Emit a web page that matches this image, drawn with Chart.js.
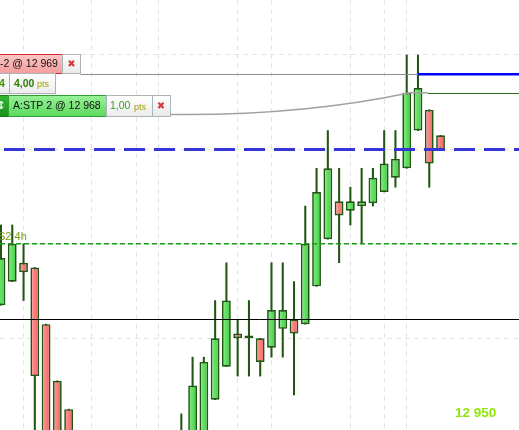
<!DOCTYPE html>
<html><head><meta charset="utf-8">
<script src="https://cdn.jsdelivr.net/npm/chart.js@4"></script>
<style>html,body{margin:0;padding:0;background:#fff;overflow:hidden}#wrap{width:519px;height:430px}</style>
</head><body><div id="wrap"><canvas id="c" width="519" height="430"></canvas></div>
<script>
// ---- data (candle slot index, OHLC in index points) ----
const slots  = [0,1,2,3,4,5,6,7,8,9,10,11,12,13,14,15,16,17,18,19,20,21,22,23,24,25,26,27,28,29,30,31,32,33,34,35,36,37,38,39];
const opens  = [12956.75,12958,12959,12958.75,12955.75,12952.75,12951.25,12946,12944,12942.75,12943.5,12944.5,12945.25,12944.5,12945.75,12947,12948,12949.5,12949.75,12951.75,12953.5,12955.25,12955.15,12955,12954.5,12955.5,12956,12955.75,12957.75,12960.25,12962.25,12961.75,12962,12962.15,12962.75,12963.5,12964,12966,12967.1,12965.75];
const highs  = [12961,12961,12960,12958.75,12955.75,12952.75,12951.25,12947,12945,12944,12945,12946,12946.5,12946,12947.5,12948.5,12951,12954,12954,12957,12959,12956,12957,12955,12959,12959,12958,12962,12964,12966,12964,12963,12964,12964,12966,12966,12970,12970,12967.1,12965.75];
const lows   = [12956.75,12958,12957,12948,12948.5,12946.5,12945,12943.5,12942,12941.5,12942.5,12943.5,12944,12943.75,12945,12946.5,12947.5,12949,12949.5,12951.75,12953.5,12953,12953,12953,12954,12954,12952,12955.75,12957.75,12960.25,12959,12961,12960,12962,12962.75,12963,12964,12966,12963,12965];
const closes = [12959.25,12960,12958.5,12953,12949,12947,12945.5,12944,12942.75,12943.5,12944.5,12945.25,12944.5,12945.75,12947,12948,12949.5,12952.5,12953.75,12955,12957,12955,12955,12953.75,12956.5,12956.5,12955.25,12960,12962.75,12964,12961.5,12962.25,12962.25,12963.5,12964.25,12964.5,12968,12968.25,12964.25,12965];
const timeGridSlots = [2,8,12,14,21,24,31,34,36];
const priceGridTicks = [12955,12960,12965,12970];
const priceAxisLabels = ["12 950"];
const priceAxisValues = [12950];
const limitOrderPrice = 12969;   // -2 @ 12 969
const stopOrderPrice  = 12968;   // A:STP 2 @ 12 968
const blueLevel  = 12965;
const pivotS2    = 12960;        // S2 4h
const blackLevel = 12956;
const positionStartSlot = 37;
const stopLineStartSlot = 38;

const BORDER = '#225614';
function bodyFill(c){
  const i = c.dataIndex; if (i === undefined) return '#5ad85a';
  const up = closes[i] >= opens[i];
  const xs = c.chart.scales && c.chart.scales.x;
  const px = xs ? xs.getPixelForValue(slots[i]) : NaN;
  if (!isFinite(px)) return up ? '#5ad85a' : '#f87a7a';
  const g = c.chart.ctx.createLinearGradient(px-4, 0, px+4, 0);
  if (up){ g.addColorStop(0,'#88ec88'); g.addColorStop(1,'#3ecf3e'); }
  else { g.addColorStop(0,'#ff9c9c'); g.addColorStop(1,'#f26262'); }
  return g;
}

function hline(ctx, x1, x2, y, color, w, dash, off){
  ctx.save(); ctx.beginPath(); ctx.strokeStyle=color; ctx.lineWidth=w;
  ctx.setLineDash(dash||[]); ctx.lineDashOffset = off||0;
  const yy = (w%2===1) ? Math.round(y)+0.5 : y;
  ctx.moveTo(x1, yy); ctx.lineTo(x2, yy); ctx.stroke(); ctx.restore();
}
function box(ctx, x1, y1, x2, y2, top, bot, stroke){
  const g = ctx.createLinearGradient(0, y1, 0, y2);
  g.addColorStop(0, top); g.addColorStop(1, bot);
  ctx.fillStyle = g; ctx.fillRect(x1, y1, x2-x1, y2-y1);
  ctx.strokeStyle = stroke; ctx.lineWidth = 1; ctx.strokeRect(x1, y1, x2-x1, y2-y1);
}
function txt(ctx, s, x, y, font, color, align){
  ctx.font = font; ctx.fillStyle = color; ctx.textAlign = align||'left'; ctx.textBaseline='middle';
  ctx.fillText(s, x, y);
}

const overlay = {
  id:'overlay',
  afterDatasetsDraw(chart){
    const {ctx, scales:{x, y}} = chart; const W = chart.width;
    const Y = p => y.getPixelForValue(p);
    hline(ctx, 0, W, Y(blackLevel), '#000000', 1);
    hline(ctx, 0, W, Y(pivotS2), '#1a9a1a', 1.5, [5,3]);
    hline(ctx, 0, W, Y(blueLevel), '#3636d8', 3, [21,9], 26);
    hline(ctx, 80.5, W, Y(limitOrderPrice), '#8a8a8a', 1);
    hline(ctx, x.getPixelForValue(positionStartSlot), W, Y(limitOrderPrice)+0.3, '#0000ff', 2.4);
    const ys = Y(stopOrderPrice);
    const xg = x.getPixelForValue(stopLineStartSlot) - 1.5;
    ctx.save(); ctx.beginPath(); ctx.strokeStyle='#a2a2a2'; ctx.lineWidth=1.5;
    ctx.moveTo(170.5, 114.5); ctx.quadraticCurveTo(300, 116, 410, ys); ctx.lineTo(xg, ys); ctx.stroke(); ctx.restore();
    hline(ctx, xg, W, ys, '#2b6a1e', 1);
  },
  afterDraw(chart){
    const {ctx, scales:{y}} = chart;
    const F = '"Liberation Sans", Arial, sans-serif';
    ctx.save();
    txt(ctx, 'S2 4h', -2, y.getPixelForValue(pivotS2) - 7, '11px '+F, '#7a9a12');
    txt(ctx, priceAxisLabels[0], 455, y.getPixelForValue(priceAxisValues[0]) - 19.5, 'bold 13.5px '+F, '#8ee80a');
    box(ctx, -5, 54.5, 62.5, 73.5, '#fcc6c6', '#f59c9c', '#cc2b2b');
    txt(ctx, '-2 @ 12 969', 0, 64.5, '10.5px '+F, '#111');
    box(ctx, 62.5, 54.5, 80.5, 73.5, '#ffffff', '#e9e9e9', '#a9b5b9');
    txt(ctx, '\u2716', 71.5, 64.5, 'bold 10px "DejaVu Sans"', '#d63a3a', 'center');
    box(ctx, -5, 73.5, 9.5, 93.5, '#ffffff', '#ececec', '#a9b5b9');
    txt(ctx, '4', -1, 84, 'bold 10.5px '+F, '#3a9000');
    box(ctx, 9.5, 73.5, 55.5, 93.5, '#ffffff', '#ececec', '#a9b5b9');
    txt(ctx, '4,00', 14, 84, 'bold 10.5px '+F, '#2c7e00');
    txt(ctx, 'pts', 37, 85, '9px '+F, '#a0a400');
    box(ctx, -5, 95.5, 8.5, 116.5, '#33b433', '#1e921e', '#1d7a1d');
    txt(ctx, '\u2195', 1, 106, 'bold 11px "DejaVu Sans"', '#e8ffe8', 'center');
    box(ctx, 8.5, 95.5, 106.5, 116.5, '#98f298', '#5cd85c', '#2ea02e');
    txt(ctx, 'A:STP 2 @ 12 968', 13, 106.5, '10.5px '+F, '#111');
    box(ctx, 106.5, 95.5, 152.5, 116.5, '#ffffff', '#ececec', '#a9b5b9');
    txt(ctx, '1,00', 110, 106.5, '10.5px '+F, '#34a018');
    txt(ctx, 'pts', 134, 107.5, '9px '+F, '#a0a400');
    box(ctx, 152.5, 95.5, 170.5, 116.5, '#ffffff', '#e9e9e9', '#a9b5b9');
    txt(ctx, '\u2716', 161, 106.5, 'bold 10px "DejaVu Sans"', '#d63a3a', 'center');
    ctx.restore();
  }
};

const slotPx = 11.27;
new Chart(document.getElementById('c'), {
  type: 'bar',
  data: {
    datasets: [
      { label:'body', grouped:false, order:0,
        data: slots.map(i => ({x:i, y:[opens[i], closes[i]]})),
        backgroundColor: bodyFill, borderColor: BORDER, borderWidth: 1.7, borderSkipped: false,
        inflateAmount: 0, barThickness: 8.8 },
      { label:'wick', grouped:false, order:1,
        data: slots.map(i => ({x:i, y:[lows[i], highs[i]]})),
        backgroundColor: BORDER, borderWidth: 0, barThickness: 1.4 }
    ]
  },
  options: {
    responsive:false, animation:false,
    layout:{padding:0},
    plugins:{legend:{display:false}, tooltip:{enabled:false}},
    scales:{
      x:{ type:'linear', offset:false, min:-1/slotPx, max:(519-1)/slotPx,
          grid:{offset:false, color:'#e4e4e4', lineWidth:1, drawTicks:false},
          border:{display:false, dash:[5,4]},
          ticks:{display:false},
          afterBuildTicks: s => { s.ticks = timeGridSlots.map(v => ({value:v})); } },
      y:{ type:'linear', min:12950.145, max:12972.912,
          grid:{color:'#e4e4e4', lineWidth:1, drawTicks:false},
          border:{display:false, dash:[5,4]},
          ticks:{display:false},
          afterBuildTicks: s => { s.ticks = priceGridTicks.map(v => ({value:v})); } }
    }
  },
  plugins:[overlay]
});
</script></body></html>
